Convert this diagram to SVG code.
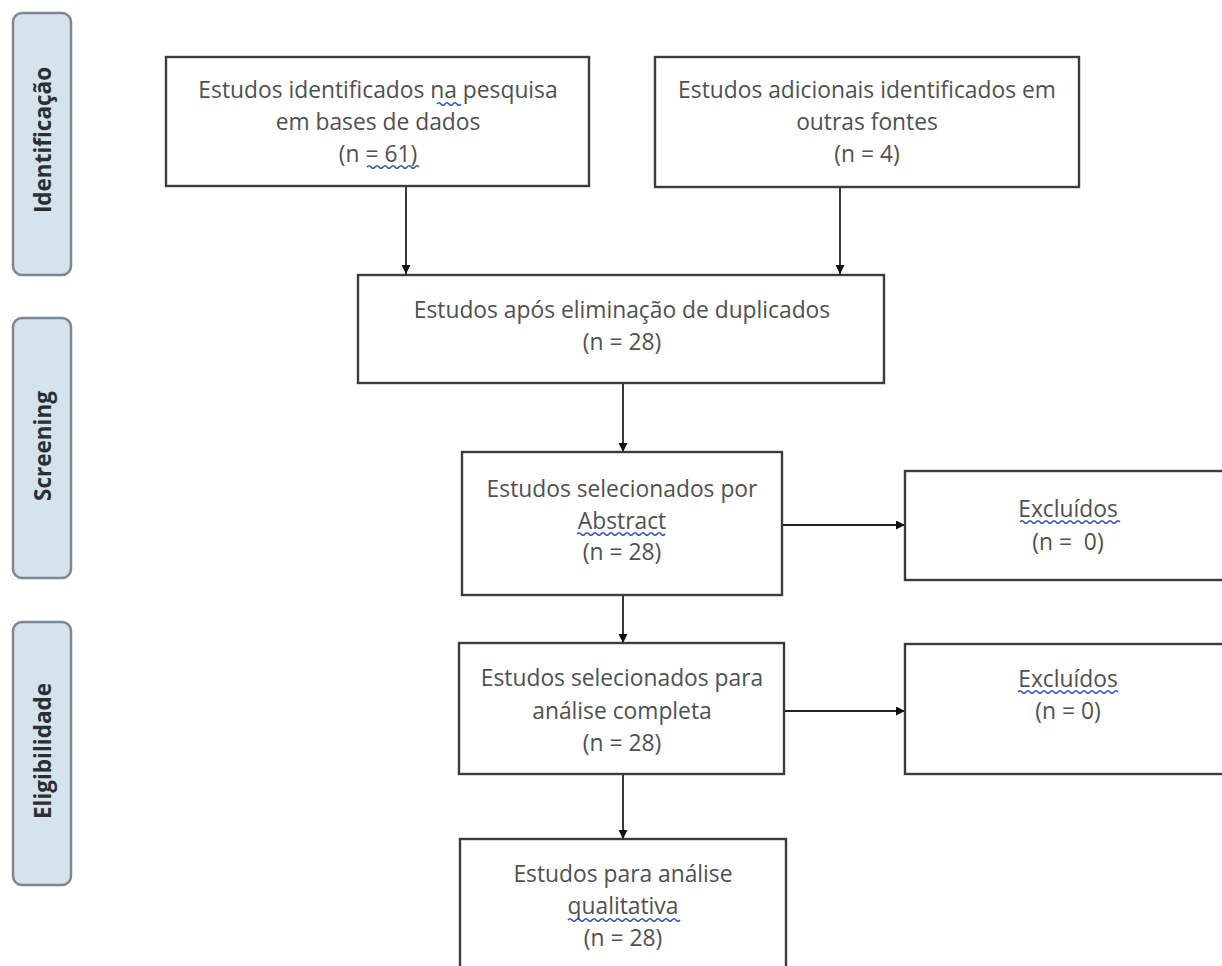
<svg xmlns="http://www.w3.org/2000/svg" width="1222" height="966" viewBox="0 0 1222 966">
<style>
.phase{fill:#d5e3ec;stroke:#7d8790;stroke-width:2.5}
.ptxt{font-family:"Open Sans","Noto Sans",sans-serif;font-size:22.5px;font-weight:bold;fill:#2b2f33;text-anchor:middle}
.box{fill:#ffffff;stroke:#3c3c3c;stroke-width:2.4}
.txt{font-family:"Open Sans","Noto Sans",sans-serif;font-size:22.8px;fill:#505050;text-anchor:middle}
.conn{stroke:#222;stroke-width:1.8;fill:none;marker-end:url(#ah)}
.wave{stroke:#2b4fb8;stroke-width:1.4;fill:none}
</style>
<defs>
<marker id="ah" viewBox="0 0 10 10" refX="10" refY="5" markerWidth="9" markerHeight="9" markerUnits="userSpaceOnUse" orient="auto"><path d="M0,0 L10,5 L0,10 Z" fill="#111"/></marker>
</defs>
<rect width="1222" height="966" fill="#ffffff"/>
<g id="phase-identificacao"><rect class="phase" x="13" y="13" width="58" height="262" rx="9"/><text class="ptxt" transform="translate(51,140) rotate(-90)">Identificação</text></g>
<g id="phase-screening"><rect class="phase" x="13" y="318" width="58" height="260" rx="9"/><text class="ptxt" transform="translate(51,446) rotate(-90)">Screening</text></g>
<g id="phase-eligibilidade"><rect class="phase" x="13" y="622" width="58" height="263" rx="9"/><text class="ptxt" transform="translate(51,751) rotate(-90)">Eligibilidade</text></g>

<g id="connectors">
<line class="conn" x1="406" y1="187" x2="406" y2="274"/>
<line class="conn" x1="840" y1="188" x2="840" y2="274"/>
<line class="conn" x1="623" y1="384" x2="623" y2="452"/>
<line class="conn" x1="782" y1="525" x2="905" y2="525"/>
<line class="conn" x1="623" y1="595" x2="623" y2="643"/>
<line class="conn" x1="784" y1="711" x2="905" y2="711"/>
<line class="conn" x1="623" y1="774" x2="623" y2="839"/>
</g>

<g id="n1"><rect class="box" x="166" y="57" width="423" height="129"/>
<text class="txt" x="378" y="98">Estudos identificados na pesquisa</text>
<text class="txt" x="378" y="130">em bases de dados</text>
<text class="txt" x="378" y="162">(n = 61)</text>
<path class="wave" d="M437,104 q2,-2.5 4,0 t4,0 t4,0 t4,0 t4,0 t4,0"/>
<path class="wave" d="M367,167 q2,-2.5 4,0 t4,0 t4,0 t4,0 t4,0 t4,0 t4,0 t4,0 t4,0 t4,0 t4,0 t4,0 t4,0"/>
</g>
<g id="n2"><rect class="box" x="655" y="57" width="424" height="130"/>
<text class="txt" x="867" y="98">Estudos adicionais identificados em</text>
<text class="txt" x="867" y="130">outras fontes</text>
<text class="txt" x="867" y="162">(n = 4)</text>
</g>
<g id="n3"><rect class="box" x="358" y="275" width="526" height="108"/>
<text class="txt" x="622" y="318">Estudos após eliminação de duplicados</text>
<text class="txt" x="622" y="350">(n = 28)</text>
</g>
<g id="n4"><rect class="box" x="462" y="452" width="320" height="143"/>
<text class="txt" x="622" y="497">Estudos selecionados por</text>
<text class="txt" x="622" y="529">Abstract</text>
<text class="txt" x="622" y="560">(n = 28)</text>
<path class="wave" d="M577,534 q2,-2.5 4,0 t4,0 t4,0 t4,0 t4,0 t4,0 t4,0 t4,0 t4,0 t4,0 t4,0 t4,0 t4,0 t4,0 t4,0 t4,0 t4,0 t4,0 t4,0 t4,0 t4,0 t4,0"/>
</g>
<g id="n5"><rect class="box" x="905" y="471" width="340" height="109"/>
<text class="txt" x="1068" y="517">Excluídos</text>
<text class="txt" x="1068" y="550" xml:space="preserve">(n =  0)</text>
<path class="wave" d="M1020,522 q2,-2.5 4,0 t4,0 t4,0 t4,0 t4,0 t4,0 t4,0 t4,0 t4,0 t4,0 t4,0 t4,0 t4,0 t4,0 t4,0 t4,0 t4,0 t4,0 t4,0 t4,0 t4,0 t4,0 t4,0 t4,0 t4,0"/>
</g>
<g id="n6"><rect class="box" x="459" y="643" width="325" height="131"/>
<text class="txt" x="622" y="686">Estudos selecionados para</text>
<text class="txt" x="622" y="719">análise completa</text>
<text class="txt" x="622" y="751">(n = 28)</text>
</g>
<g id="n7"><rect class="box" x="905" y="644" width="340" height="130"/>
<text class="txt" x="1068" y="687">Excluídos</text>
<text class="txt" x="1068" y="719">(n = 0)</text>
<path class="wave" d="M1018,692 q2,-2.5 4,0 t4,0 t4,0 t4,0 t4,0 t4,0 t4,0 t4,0 t4,0 t4,0 t4,0 t4,0 t4,0 t4,0 t4,0 t4,0 t4,0 t4,0 t4,0 t4,0 t4,0 t4,0 t4,0 t4,0 t4,0"/>
</g>
<g id="n8"><rect class="box" x="460" y="839" width="326" height="140"/>
<text class="txt" x="623" y="882">Estudos para análise</text>
<text class="txt" x="623" y="914">qualitativa</text>
<text class="txt" x="623" y="946">(n = 28)</text>
<path class="wave" d="M568,920 q2,-2.5 4,0 t4,0 t4,0 t4,0 t4,0 t4,0 t4,0 t4,0 t4,0 t4,0 t4,0 t4,0 t4,0 t4,0 t4,0 t4,0 t4,0 t4,0 t4,0 t4,0 t4,0 t4,0 t4,0 t4,0 t4,0 t4,0 t4,0 t4,0"/>
</g>
</svg>
